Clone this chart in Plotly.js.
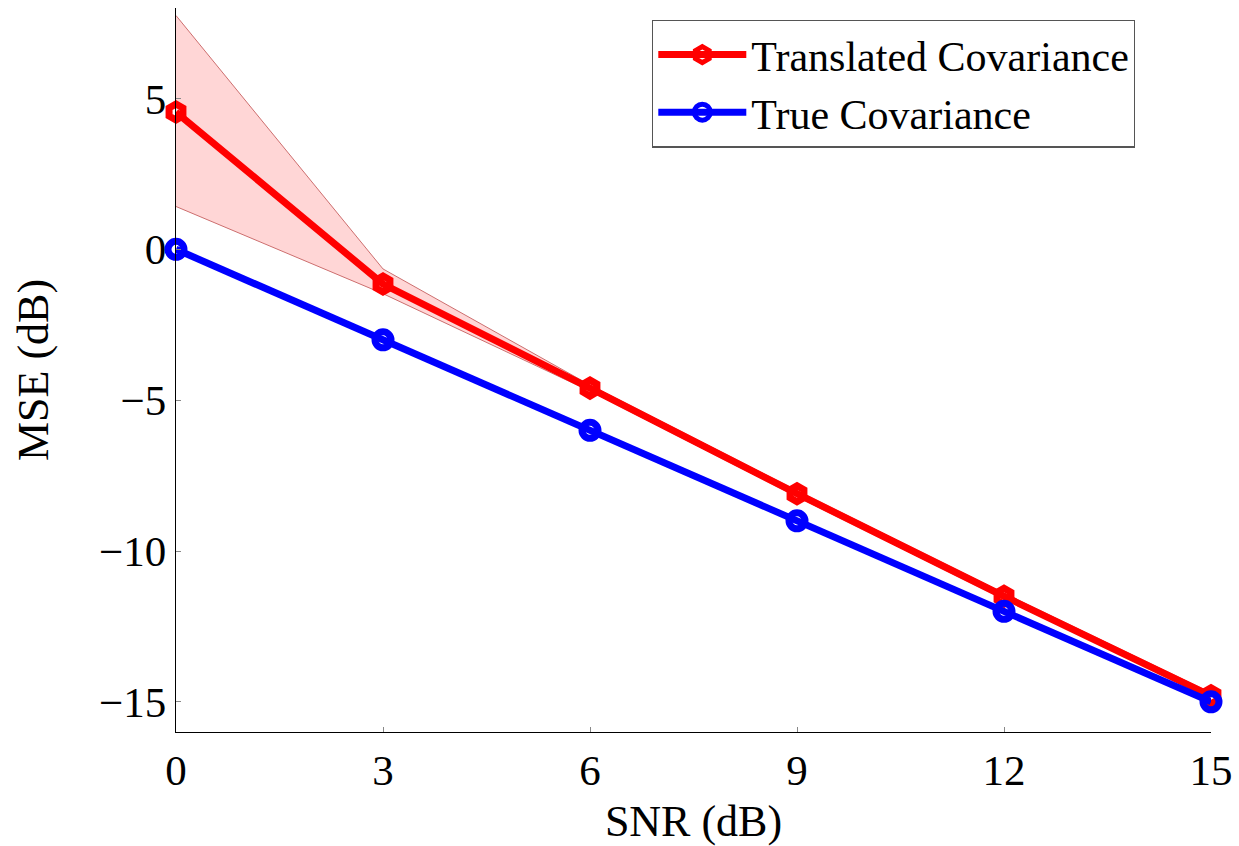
<!DOCTYPE html>
<html>
<head>
<meta charset="utf-8">
<script src="https://cdn.plot.ly/plotly-3.0.1.min.js"></script>
<style>html,body{margin:0;padding:0;background:#fff;}#chart{width:1239px;height:846px;}</style>
</head>
<body>
<div id="chart"></div>
<script>
const snr = [0, 3, 6, 9, 12, 15];
const translatedMSE = [4.55, -1.15, -4.6, -8.1, -11.5, -14.8];
const trueMSE = [0, -3, -6, -9, -12, -15];
const bandUpper = [7.75, -0.65, -4.5, -8.0, -11.4, -14.7];
const bandLower = [1.42, -1.47, -4.7, -8.2, -11.6, -14.85];
const xTicks = [0, 3, 6, 9, 12, 15];
const yTicks = [-15, -10, -5, 0, 5];

const font = "'Liberation Serif', 'DejaVu Serif', serif";

const traces = [
  {x: snr, y: bandLower, mode: 'lines', line: {color: 'rgb(205,110,110)', width: 1},
   showlegend: false, hoverinfo: 'skip'},
  {x: snr, y: bandUpper, mode: 'lines', line: {color: 'rgb(205,110,110)', width: 1},
   fill: 'tonexty', fillcolor: 'rgba(255,0,0,0.16)', showlegend: false, hoverinfo: 'skip'},
  {x: snr, y: translatedMSE, mode: 'lines+markers', name: 'Translated Covariance',
   line: {color: 'red', width: 7}, cliponaxis: false,
   marker: {symbol: 'hexagon', size: 16, color: 'rgba(0,0,0,0)', line: {color: 'red', width: 7}}},
  {x: snr, y: trueMSE, mode: 'lines+markers', name: 'True Covariance',
   line: {color: 'blue', width: 7}, cliponaxis: false,
   marker: {symbol: 'circle', size: 16, color: 'rgba(0,0,0,0)', line: {color: 'blue', width: 7}}}
];

const layout = {
  width: 1239, height: 846,
  margin: {l: 176, r: 28, t: 8, b: 114},
  paper_bgcolor: '#fff', plot_bgcolor: '#fff',
  font: {family: font, size: 44, color: '#000'},
  xaxis: {
    range: [0, 15], tickvals: xTicks, ticktext: xTicks.map(String),
    showgrid: false, zeroline: false, showline: true, linecolor: '#000', linewidth: 1.2,
    ticks: 'inside', ticklen: 5, tickcolor: '#888', tickwidth: 1,
    tickfont: {family: font, size: 43},
    title: {text: 'SNR (dB)', font: {family: font, size: 44}, standoff: 16}
  },
  yaxis: {
    range: [-16, 8], tickvals: yTicks,
    showgrid: false, zeroline: false, showline: true, linecolor: '#000', linewidth: 1.2,
    ticks: 'inside', ticklen: 5, tickcolor: '#888', tickwidth: 1,
    tickfont: {family: font, size: 43},
    title: {text: 'MSE (dB)', font: {family: font, size: 44}, standoff: 36}
  },
  legend: {
    x: 0.460, y: 0.984, xanchor: 'left', yanchor: 'top',
    bgcolor: '#fff', bordercolor: '#555', borderwidth: 1.2,
    font: {family: font, size: 42}, itemwidth: 88, tracegroupgap: 0,
    traceorder: 'normal'
  },
  showlegend: true
};

Plotly.newPlot('chart', traces, layout, {displayModeBar: false, staticPlot: true});
</script>
</body>
</html>
